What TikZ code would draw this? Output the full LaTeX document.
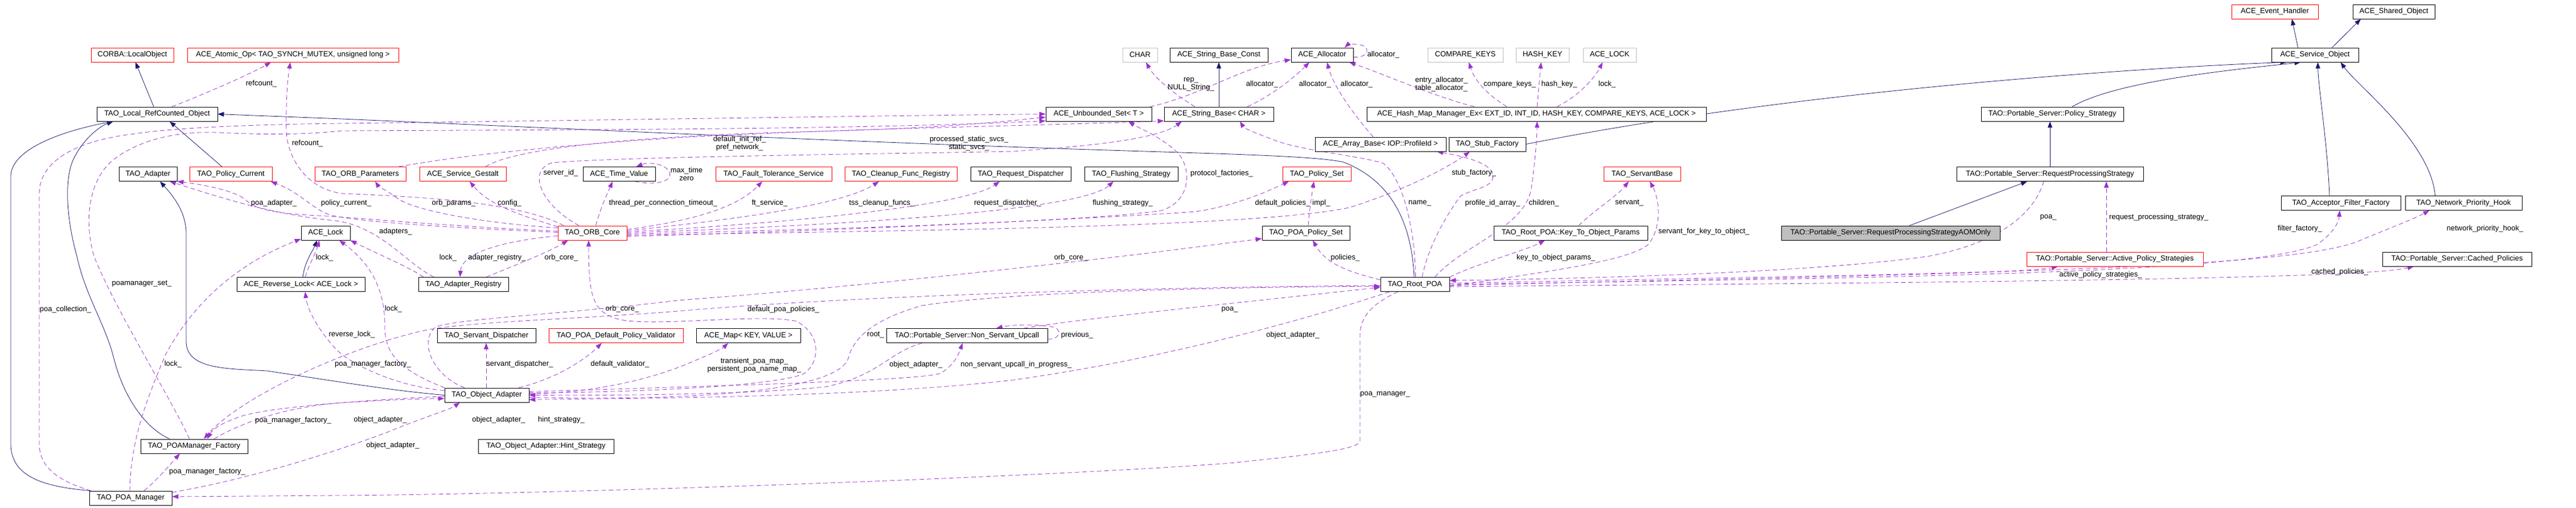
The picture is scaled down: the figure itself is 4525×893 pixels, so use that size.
\documentclass[tikz,border=0pt]{standalone}
\usepackage{fontspec}
\setmainfont{Liberation Sans}
\usetikzlibrary{arrows.meta}
\definecolor{navyc}{RGB}{25,25,112}
\definecolor{purpc}{RGB}{154,50,205}
\definecolor{grayb}{RGB}{191,191,191}
\newcommand\lblfont{\fontsize{13}{14}\selectfont}
\pgfdeclarelayer{bgzero}
\pgfdeclarelayer{edgelayer}
\pgfsetlayers{bgzero,edgelayer,main}
\begin{document}
\begin{tikzpicture}[x=1pt,y=-1pt,
 cls/.style={draw=black,line width=0.8pt,minimum height=25pt,inner sep=0pt,font=\lblfont,fill=white},
 redcls/.style={cls,draw=red},
 graycls/.style={cls,draw=grayb},
 focus/.style={cls,fill=grayb},
 lbl/.style={font=\lblfont,inner sep=0pt,align=center},
 inh/.style={draw=navyc,line width=0.8pt,-{Triangle[length=11pt,width=8pt]}},
 usg/.style={draw=purpc,line width=0.8pt,dash pattern=on 8pt off 5pt,-{Triangle[length=11pt,width=8pt]}},
]
\begin{pgfonlayer}{bgzero}
\fill[white] (0,0) rectangle (4525,893);
\end{pgfonlayer}
\useasboundingbox (0,0) rectangle (4525,893);

% ---------------- nodes ----------------
\node[redcls,minimum width=145] (corba) at (232.5,96.5) {CORBA::LocalObject};
\node[redcls,minimum width=371] (atomic) at (514.5,96.5) {ACE\_Atomic\_Op< TAO\_SYNCH\_MUTEX, unsigned long >};
\node[cls,minimum width=212] (lrc) at (276,200.5) {TAO\_Local\_RefCounted\_Object};
\node[cls,minimum width=102] (adapter) at (260,306) {TAO\_Adapter};
\node[redcls,minimum width=145] (polcur) at (405.5,306) {TAO\_Policy\_Current};
\node[redcls,minimum width=160] (orbparams) at (633,306) {TAO\_ORB\_Parameters};
\node[redcls,minimum width=152] (gestalt) at (813,306) {ACE\_Service\_Gestalt};
\node[cls,minimum width=127] (timeval) at (1087.5,306) {ACE\_Time\_Value};
\node[redcls,minimum width=204] (ft) at (1359,306) {TAO\_Fault\_Tolerance\_Service};
\node[redcls,minimum width=197] (cleanup) at (1582.5,306) {TAO\_Cleanup\_Func\_Registry};
\node[cls,minimum width=176] (reqdisp) at (1793,306) {TAO\_Request\_Dispatcher};
\node[cls,minimum width=164] (flush) at (1987,306) {TAO\_Flushing\_Strategy};
\node[redcls,minimum width=120] (polset) at (2313,306) {TAO\_Policy\_Set};
\node[redcls,minimum width=135] (servantbase) at (2884.5,306) {TAO\_ServantBase};
\node[cls,minimum width=86] (acelock) at (572,409.5) {ACE\_Lock};
\node[redcls,minimum width=121] (orbcore) at (1040.5,409.5) {TAO\_ORB\_Core};
\node[cls,minimum width=154] (poapolset) at (2294,409.5) {TAO\_POA\_Policy\_Set};
\node[cls,minimum width=270] (k2o) at (2759,409.5) {TAO\_Root\_POA::Key\_To\_Object\_Params};
\node[focus,minimum width=384] (aom) at (3321,409.5) {TAO::Portable\_Server::RequestProcessingStrategyAOMOnly};
\node[cls,minimum width=225] (revlock) at (528.5,500) {ACE\_Reverse\_Lock< ACE\_Lock >};
\node[cls,minimum width=158] (adreg) at (814,500) {TAO\_Adapter\_Registry};
\node[cls,minimum width=121] (rootpoa) at (2485.5,500) {TAO\_Root\_POA};
\node[cls,minimum width=173] (sdisp) at (854.5,590) {TAO\_Servant\_Dispatcher};
\node[redcls,minimum width=236] (validator) at (1082,590) {TAO\_POA\_Default\_Policy\_Validator};
\node[cls,minimum width=183] (acemap) at (1314.5,590) {ACE\_Map< KEY, VALUE >};
\node[cls,minimum width=283] (nsu) at (1698.5,590) {TAO::Portable\_Server::Non\_Servant\_Upcall};
\node[cls,minimum width=148] (objad) at (855,694.5) {TAO\_Object\_Adapter};
\node[cls,minimum width=188] (pmf) at (341,784.5) {TAO\_POAManager\_Factory};
\node[cls,minimum width=238] (hint) at (959,784.5) {TAO\_Object\_Adapter::Hint\_Strategy};
\node[cls,minimum width=145] (poamgr) at (229.5,875.5) {TAO\_POA\_Manager};
\node[graycls,minimum width=61] (char) at (2002.5,96.5) {CHAR};
\node[cls,minimum width=172] (sbconst) at (2141,96.5) {ACE\_String\_Base\_Const};
\node[cls,minimum width=109] (allocator) at (2322.5,96.5) {ACE\_Allocator};
\node[graycls,minimum width=132] (ckeys) at (2574,96.5) {COMPARE\_KEYS};
\node[graycls,minimum width=93] (hkey) at (2709.5,96.5) {HASH\_KEY};
\node[graycls,minimum width=93] (acelockT) at (2827.5,96.5) {ACE\_LOCK};
\node[cls,minimum width=186] (uset) at (1930,200.5) {ACE\_Unbounded\_Set< T >};
\node[cls,minimum width=192] (sbase) at (2141,200.5) {ACE\_String\_Base< CHAR >};
\node[cls,minimum width=596] (hashmap) at (2699,200.5) {ACE\_Hash\_Map\_Manager\_Ex< EXT\_ID, INT\_ID, HASH\_KEY, COMPARE\_KEYS, ACE\_LOCK >};
\node[cls,minimum width=230] (arraybase) at (2425,253.5) {ACE\_Array\_Base< IOP::ProfileId >};
\node[cls,minimum width=135] (stubfac) at (2612.5,253.5) {TAO\_Stub\_Factory};
\node[cls,minimum width=328] (rps) at (3601,306) {TAO::Portable\_Server::RequestProcessingStrategy};
\node[cls,minimum width=250] (polstrat) at (3605,200.5) {TAO::Portable\_Server::Policy\_Strategy};
\node[cls,minimum width=153] (svcobj) at (4066.5,96.5) {ACE\_Service\_Object};
\node[redcls,minimum width=152] (evh) at (3996,20.5) {ACE\_Event\_Handler};
\node[cls,minimum width=144] (shobj) at (4205,20.5) {ACE\_Shared\_Object};
\node[cls,minimum width=210] (acceptor) at (4112,357) {TAO\_Acceptor\_Filter\_Factory};
\node[cls,minimum width=205] (nph) at (4327.5,357) {TAO\_Network\_Priority\_Hook};
\node[redcls,minimum width=310] (active) at (3715,455.5) {TAO::Portable\_Server::Active\_Policy\_Strategies};
\node[cls,minimum width=262] (cached) at (4316,455.5) {TAO::Portable\_Server::Cached\_Policies};

% ---------------- labels ----------------
\node[lbl] (l01) at (459,147) {refcount\_};
\node[lbl] (l02) at (540,252) {refcount\_};
\node[lbl] (l03) at (481,357) {poa\_adapter\_};
\node[lbl] (l04) at (608,357) {policy\_current\_};
\node[lbl] (l05) at (797,357) {orb\_params\_};
\node[lbl] (l06) at (895,357) {config\_};
\node[lbl] (l07) at (985,304) {server\_id\_};
\node[lbl] (l08) at (1206,305.5) {max\_time\\zero};
\node[lbl] (l09) at (1165,357) {thread\_per\_connection\_timeout\_};
\node[lbl] (l10) at (1352,357) {ft\_service\_};
\node[lbl] (l11) at (1549,357) {tss\_cleanup\_funcs\_};
\node[lbl] (l12) at (1770,357) {request\_dispatcher\_};
\node[lbl] (l13) at (1972,357) {flushing\_strategy\_};
\node[lbl] (l14) at (2146,305) {protocol\_factories\_};
\node[lbl] (l15) at (2253,357) {default\_policies\_};
\node[lbl] (l16) at (2321,357) {impl\_};
\node[lbl] (l17) at (1299,252) {default\_init\_ref\_\\pref\_network\_};
\node[lbl] (l18) at (1702,252) {processed\_static\_svcs\_\\static\_svcs\_};
\node[lbl] (l19) at (115,544) {poa\_collection\_};
\node[lbl] (l20) at (249,499) {poamanager\_set\_};
\node[lbl] (l21) at (2092,148) {rep\_\\NULL\_String\_};
\node[lbl] (l22) at (2217,148) {allocator\_};
\node[lbl] (l23) at (2310,148) {allocator\_};
\node[lbl] (l24) at (2383,148) {allocator\_};
\node[lbl] (l25) at (2430,96) {allocator\_};
\node[lbl] (l26) at (2532,148) {entry\_allocator\_\\table\_allocator\_};
\node[lbl] (l27) at (2652,148) {compare\_keys\_};
\node[lbl] (l28) at (2739,148) {hash\_key\_};
\node[lbl] (l29) at (2823,148) {lock\_};
\node[lbl] (l30) at (2589,304) {stub\_factory\_};
\node[lbl] (l31) at (2494,357) {name\_};
\node[lbl] (l32) at (2622,357) {profile\_id\_array\_};
\node[lbl] (l33) at (2712,357) {children\_};
\node[lbl] (l34) at (2862,357) {servant\_};
\node[lbl] (l35) at (2993,407) {servant\_for\_key\_to\_object\_};
\node[lbl] (l36) at (2733,453) {key\_to\_object\_params\_};
\node[lbl] (l37) at (2363,453) {policies\_};
\node[lbl] (l38) at (1881,453) {orb\_core\_};
\node[lbl] (l39) at (2160,544) {poa\_};
\node[lbl] (l40) at (2271,589) {object\_adapter\_};
\node[lbl] (l41) at (1892,589) {previous\_};
\node[lbl] (l42) at (1538,589) {root\_};
\node[lbl] (l43) at (1609,641) {object\_adapter\_};
\node[lbl] (l44) at (1785,641) {non\_servant\_upcall\_in\_progress\_};
\node[lbl] (l45) at (1376,544) {default\_poa\_policies\_};
\node[lbl] (l46) at (1325,642) {transient\_poa\_map\_\\persistent\_poa\_name\_map\_};
\node[lbl] (l47) at (1093,543) {orb\_core\_};
\node[lbl] (l48) at (691,543) {lock\_};
\node[lbl] (l49) at (913,640) {servant\_dispatcher\_};
\node[lbl] (l50) at (1089,640) {default\_validator\_};
\node[lbl] (l51) at (787,453) {lock\_};
\node[lbl] (l52) at (873,453) {adapter\_registry\_};
\node[lbl] (l53) at (986,453) {orb\_core\_};
\node[lbl] (l54) at (570,453) {lock\_};
\node[lbl] (l55) at (695,407) {adapters\_};
\node[lbl] (l56) at (618,588) {reverse\_lock\_};
\node[lbl] (l57) at (655,640) {poa\_manager\_factory\_};
\node[lbl] (l58) at (515,739) {poa\_manager\_factory\_};
\node[lbl] (l59) at (668,738) {object\_adapter\_};
\node[lbl] (l60) at (690,783) {object\_adapter\_};
\node[lbl] (l61) at (876,738) {object\_adapter\_};
\node[lbl] (l62) at (986,738) {hint\_strategy\_};
\node[lbl] (l63) at (364,829) {poa\_manager\_factory\_};
\node[lbl] (l64) at (304,640) {lock\_};
\node[lbl] (l65) at (2433,693) {poa\_manager\_};
\node[lbl] (l66) at (3598,382) {poa\_};
\node[lbl] (l67) at (3792,382) {request\_processing\_strategy\_};
\node[lbl] (l68) at (4040,402) {filter\_factory\_};
\node[lbl] (l69) at (4365,402) {network\_priority\_hook\_};
\node[lbl] (l70) at (3690,483) {active\_policy\_strategies\_};
\node[lbl] (l71) at (4110,478) {cached\_policies\_};

% ---------------- edges ----------------
\begin{pgfonlayer}{edgelayer}
% inheritance
\draw[inh] ([xshift=-6]lrc.north) -- ([xshift=5.5]corba.south);
\draw[inh] ([xshift=3]poamgr.north west) .. controls (60,855) and (19,830) .. (19,780) -- (19,310) .. controls (19,262) and (110,230) .. ([xshift=-77]lrc.south);
\draw[inh] ([xshift=-43]pmf.north) .. controls (250,750) and (215,690) .. (200,630) .. controls (185,570) and (150,520) .. (135,450) .. controls (118,390) and (112,320) .. (128,282) .. controls (145,245) and (175,222) .. ([xshift=-77]lrc.south);
\draw[inh] ([xshift=-15.5]polcur.north) -- ([xshift=22]lrc.south);
\draw[inh] ([xshift=-1.5]rootpoa.north) .. controls (2480,400) and (2450,320) .. (2360,285) .. controls (2300,272) and (2100,270) .. (1770,258) .. controls (1400,245) and (900,222) .. (600,209) -- (lrc.east);
\draw[inh] (objad.west) .. controls (700,688) and (600,672) .. (470,652) .. controls (400,648) and (327,650) .. (327,600) -- (327,410) .. controls (327,370) and (300,340) .. ([xshift=21]adapter.south);
\draw[inh] ([xshift=3.5]revlock.north) .. controls (535,460) and (550,440) .. ([xshift=-15]acelock.south);
\draw[inh] (sbase.north) -- (sbconst.south);
\draw[inh] (stubfac.east) .. controls (3200,150) and (3850,115) .. ([xshift=-50]svcobj.south);
\draw[inh] ([xshift=33]aom.north) -- ([xshift=-40]rps.south);
\draw[inh] (rps.north) -- ([xshift=-4]polstrat.south);
\draw[inh] ([xshift=35]polstrat.north) .. controls (3720,140) and (3950,120) .. ([xshift=-25]svcobj.south);
\draw[inh] ([xshift=-30]svcobj.north) -- ([xshift=30]evh.south);
\draw[inh] ([xshift=30]svcobj.north) -- ([xshift=-58]shobj.south);
\draw[inh] ([xshift=-20]acceptor.north) .. controls (4088,250) and (4072,150) .. ([xshift=5]svcobj.south);
\draw[inh] ([xshift=-50]nph.north) .. controls (4270,250) and (4140,150) .. ([xshift=45]svcobj.south);
% usage
\draw[usg] ([xshift=26]lrc.north) .. controls (360,165) and (440,130) .. ([xshift=-38.5]atomic.south);
\draw[usg] ([xshift=-50]orbcore.north) .. controls (900,350) and (700,345) .. (600,340) .. controls (540,332) and (505,280) .. (503,230) .. controls (502,180) and (505,140) .. ([xshift=-4.5]atomic.south);
\draw[usg] ([yshift=3]orbcore.west) .. controls (800,398) and (650,385) .. (560,379) .. controls (470,375) and (445,365) .. (430,350) .. controls (410,335) and (360,325) .. (adapter.south east);
\draw[usg] ([xshift=-52]adreg.north) .. controls (710,460) and (670,400) .. (590,388) .. controls (480,378) and (380,345) .. ([xshift=38]adapter.south);
\draw[usg] ([yshift=1]orbcore.west) .. controls (800,400) and (640,392) .. (580,378) .. controls (545,365) and (530,340) .. ([xshift=70]polcur.south);
\draw[usg] ([yshift=9]orbcore.west) .. controls (880,395) and (740,375) .. (700,350) .. controls (680,335) and (665,328) .. ([xshift=26]orbparams.south);
\draw[usg] ([yshift=11]orbcore.west) .. controls (920,380) and (860,362) .. ([xshift=12]gestalt.south);
\draw[usg] ([xshift=6]orbcore.north) .. controls (1055,365) and (1065,345) .. ([xshift=-11.5]timeval.south);
\draw[usg] ([xshift=28]timeval.south) .. controls (1160,328) and (1182,315) .. (1176,303) .. controls (1170,288) and (1140,284) .. ([xshift=30]timeval.north);
\draw[usg] ([yshift=6]orbcore.east) .. controls (1200,390) and (1290,370) .. ([xshift=-20]ft.south);
\draw[usg] ([yshift=4]orbcore.east) .. controls (1300,385) and (1480,360) .. ([xshift=-38.5]cleanup.south);
\draw[usg] ([yshift=2]orbcore.east) .. controls (1400,392) and (1700,360) .. ([xshift=-37]reqdisp.south);
\draw[usg] (orbcore.east) .. controls (1500,395) and (1900,370) .. ([xshift=-31]flush.south);
\draw[usg] ([yshift=-2]orbcore.east) .. controls (1600,400) and (1950,385) .. (2040,370) .. controls (2090,355) and (2095,300) .. (2070,270) .. controls (2040,240) and (2000,225) .. ([xshift=52]uset.south);
\draw[usg] ([xshift=3]poamgr.north west) .. controls (100,845) and (69,820) .. (69,780) -- (69,340) .. controls (69,290) and (120,250) .. (230,236) .. controls (320,222) and (500,218) .. (600,217) .. controls (1000,212) and (1500,204) .. (uset.west);
\draw[usg] ([xshift=-8]pmf.north) .. controls (300,700) and (200,540) .. (165,450) .. controls (150,400) and (150,320) .. (200,280) .. controls (240,250) and (300,230) .. (383,233) .. controls (450,236) and (520,238) .. (600,230) .. controls (1000,228) and (1500,228) .. ([yshift=-12]uset.west);
\draw[usg] ([xshift=40]gestalt.north) .. controls (900,262) and (1100,240) .. (1400,232) .. controls (1650,226) and (1750,215) .. ([yshift=-5.5]uset.west);
\draw[usg] ([xshift=67]orbparams.north) .. controls (800,275) and (950,258) .. (1190,242) .. controls (1500,225) and (1800,222) .. ([yshift=-12]sbase.west);
\draw[usg] ([xshift=-23.5]orbcore.north) .. controls (950,360) and (925,300) .. (970,286) .. controls (1100,275) and (1600,270) .. (1780,266) .. controls (1950,255) and (2040,240) .. ([xshift=-65]sbase.south);
\draw[usg] ([xshift=1]rootpoa.north) .. controls (2486,420) and (2470,320) .. (2430,287) .. controls (2380,272) and (2280,265) .. (2230,243) .. controls (2200,232) and (2185,225) .. ([xshift=37]sbase.south);
\draw[usg] ([xshift=-42]sbase.north) .. controls (2070,170) and (2030,140) .. ([xshift=10.5]char.south);
\draw[usg] ([xshift=90]uset.north) .. controls (2110,168) and (2180,118) .. ([yshift=-8.5]allocator.west);
\draw[usg] ([xshift=50]sbase.north) .. controls (2240,165) and (2280,130) .. ([xshift=-22.5]allocator.south);
\draw[usg] ([xshift=-13]arraybase.north) .. controls (2390,215) and (2345,160) .. ([xshift=8.5]allocator.south);
\draw[usg] ([yshift=-4]allocator.east) .. controls (2405,102) and (2408,82) .. (2390,79) .. controls (2380,77) and (2368,78) .. ([xshift=39.5]allocator.north);
\draw[usg] ([xshift=-109]hashmap.north) .. controls (2520,170) and (2430,130) .. ([xshift=47.5]allocator.south);
\draw[usg] ([xshift=-52]hashmap.north) .. controls (2610,165) and (2590,140) .. ([xshift=6]ckeys.south);
\draw[usg] ([xshift=1]hashmap.north) -- ([xshift=-2.5]hkey.south);
\draw[usg] ([xshift=36]hashmap.north) .. controls (2780,165) and (2805,130) .. ([xshift=-12.5]acelockT.south);
\draw[usg] ([xshift=35]rootpoa.north) .. controls (2570,430) and (2680,400) .. (2690,330) .. controls (2697,280) and (2700,240) .. ([xshift=1]hashmap.south);
\draw[usg] ([xshift=12.5]rootpoa.north) .. controls (2510,430) and (2540,380) .. (2565,345) .. controls (2590,330) and (2628,330) .. (2622,305) .. controls (2615,285) and (2570,275) .. ([xshift=99]arraybase.south);
\draw[usg] ([yshift=-4]orbcore.east) .. controls (1600,405) and (2200,400) .. (2370,365) .. controls (2480,330) and (2550,290) .. ([xshift=-30.5]stubfac.south);
\draw[usg] ([yshift=-6]orbcore.east) .. controls (1500,405) and (2000,380) .. (2100,372) .. controls (2170,362) and (2230,335) .. ([xshift=-49]polset.south);
\draw[usg] ([xshift=4]poapolset.north) .. controls (2300,370) and (2303,350) .. ([xshift=-5]polset.south);
\draw[usg] ([xshift=-39]objad.north) .. controls (760,660) and (735,600) .. (765,575) .. controls (800,560) and (1000,552) .. (1190,528) .. controls (1500,505) and (1800,470) .. (1992,448) .. controls (2080,437) and (2150,428) .. ([yshift=-10]poapolset.west);
\draw[usg] ([yshift=4]objad.east) .. controls (1100,690) and (1350,680) .. (1410,658) .. controls (1440,640) and (1445,590) .. (1400,565) .. controls (1340,550) and (1150,575) .. (1090,562) .. controls (1040,550) and (1034,520) .. ([xshift=-6.5]orbcore.south);
\draw[usg] ([yshift=-5]orbcore.west) .. controls (900,422) and (812,440) .. ([xshift=-6]adreg.north);
\draw[usg] ([xshift=40]adreg.north) .. controls (900,468) and (960,445) .. ([xshift=-42.5]orbcore.south);
\draw[usg] ([xshift=-70]adreg.north) .. controls (720,470) and (660,445) .. (acelock.south east);
\draw[usg] ([xshift=8]revlock.north) .. controls (540,470) and (555,445) .. ([xshift=-11]acelock.south);
\draw[usg] ([xshift=-74]objad.north) .. controls (700,650) and (675,620) .. (676,573) .. controls (676,520) and (660,470) .. ([xshift=24]acelock.south);
\draw[usg] ([xshift=-1.5]poamgr.north) .. controls (230,780) and (250,720) .. (291,623) .. controls (330,550) and (400,470) .. ([yshift=-10.5]acelock.west);
\draw[usg] ([yshift=8]objad.west) .. controls (700,680) and (610,640) .. (585,608) .. controls (560,580) and (540,545) .. ([xshift=7.5]revlock.south);
\draw[usg] ([yshift=-2]rootpoa.west) .. controls (2000,505) and (1500,520) .. (1190,547) .. controls (1000,562) and (820,565) .. (740,582) .. controls (600,615) and (420,700) .. ([xshift=17]pmf.north);
\draw[usg] ([yshift=-2]objad.west) .. controls (650,703) and (470,715) .. (420,733) .. controls (395,742) and (375,752) .. ([xshift=23]pmf.north);
\draw[usg] ([xshift=35]pmf.north) .. controls (420,745) and (500,715) .. (600,708) .. controls (680,703) and (740,701) .. ([yshift=-6]objad.west);
\draw[usg] ([yshift=10]poamgr.east) .. controls (450,840) and (600,790) .. (680,760) .. controls (740,735) and (790,720) .. ([xshift=-47]objad.south);
\draw[usg] ([xshift=23.5]poamgr.north) .. controls (280,840) and (300,815) .. ([xshift=-25]pmf.south);
\draw[usg] ([xshift=-1]objad.north) -- ([xshift=-0.5]sdisp.south);
\draw[usg] ([xshift=56]objad.north) .. controls (980,665) and (1030,630) .. ([xshift=-25]validator.south);
\draw[usg] ([yshift=2]objad.east) .. controls (1050,690) and (1150,665) .. (1218,635) .. controls (1250,622) and (1270,612) .. ([xshift=-35.5]acemap.south);
\draw[usg] ([yshift=-4]objad.east) .. controls (1200,705) and (1470,690) .. (1490,630) .. controls (1500,590) and (1540,560) .. (1620,537) .. controls (1800,510) and (2200,505) .. ([yshift=-3]rootpoa.west);
\draw[usg] ([xshift=-78.5]nsu.south) .. controls (1560,620) and (1545,660) .. (1450,680) .. controls (1300,695) and (1050,695) .. (objad.east);
\draw[usg] ([yshift=6]objad.east) .. controls (1200,680) and (1600,670) .. (1650,657) .. controls (1675,645) and (1685,620) .. ([xshift=-7.5]nsu.south);
\draw[usg] ([yshift=-6]nsu.east) .. controls (1860,598) and (1868,580) .. (1850,575) .. controls (1830,570) and (1780,570) .. ([xshift=51.5]nsu.north);
\draw[usg] ([xshift=100]nsu.north) .. controls (1900,560) and (2150,535) .. ([yshift=-5]rootpoa.west);
\draw[usg] ([xshift=-45]rootpoa.south) .. controls (2300,560) and (2050,630) .. (1780,668) .. controls (1500,700) and (1100,700) .. ([yshift=-8]objad.east);
\draw[usg] ([xshift=-30]rootpoa.south) .. controls (2420,530) and (2389,550) .. (2389,590) -- (2389,775) .. controls (2389,790) and (2300,800) .. (2150,815) .. controls (1800,840) and (1000,868) .. (600,871) -- ([yshift=2.5]poamgr.east);
\draw[usg] ([yshift=8]rootpoa.west) .. controls (2370,478) and (2330,465) .. ([xshift=12]poapolset.south);
\draw[usg] (rootpoa.north east) .. controls (2590,465) and (2680,440) .. ([xshift=-45]k2o.south);
\draw[usg] ([xshift=14]k2o.north) .. controls (2800,370) and (2840,345) .. ([xshift=-23.5]servantbase.south);
\draw[usg] ([yshift=-3]rootpoa.east) .. controls (2700,480) and (2860,460) .. (2895,430) .. controls (2920,400) and (2915,350) .. ([xshift=13.5]servantbase.south);
\draw[usg] ([xshift=-11]rps.south) .. controls (3575,370) and (3520,425) .. (3390,450) .. controls (3200,478) and (2800,490) .. ([yshift=7]rootpoa.east);
\draw[usg] ([xshift=-15]active.north) -- ([xshift=99]rps.south);
\draw[usg] ([yshift=-2]rootpoa.east) .. controls (3000,490) and (3550,482) .. ([xshift=-100]active.south);
\draw[usg] ([yshift=-4]rootpoa.east) .. controls (3300,497) and (4140,492) .. ([xshift=-76]cached.south);
\draw[usg] (rootpoa.east) .. controls (3300,488) and (3950,482) .. (4070,430) .. controls (4098,410) and (4108,392) .. ([xshift=-2]acceptor.south);
\draw[usg] ([yshift=2]rootpoa.east) .. controls (3300,482) and (4000,478) .. (4140,425) .. controls (4200,400) and (4240,385) .. ([xshift=-60]nph.south);
\end{pgfonlayer}
\end{tikzpicture}
\end{document}
